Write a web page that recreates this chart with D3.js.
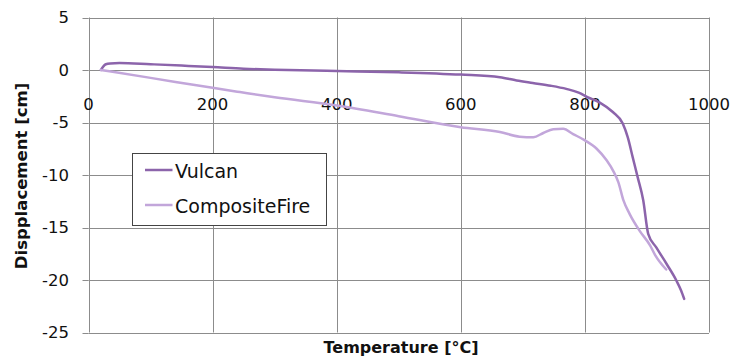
<!DOCTYPE html>
<html>
<head>
<meta charset="utf-8">
<script src="https://cdn.jsdelivr.net/npm/d3@7"></script>
<style>
  html, body { margin: 0; padding: 0; background: #fff; }
  svg { display: block; }
  text { font-family: "DejaVu Sans", sans-serif; fill: #111; }
</style>
</head>
<body>
<svg id="chart" width="734" height="363"></svg>
<script>
// Displacement vs. temperature for two fire models
const vulcanTemp = [20, 24, 28, 35, 50, 100, 150, 200, 250, 300, 400, 500, 600, 663, 690, 716, 745, 770, 790, 805, 824, 845, 861, 869, 877, 885, 894, 902, 915, 932, 947, 955, 960];
const vulcanDisp = [0, 0.35, 0.55, 0.63, 0.67, 0.55, 0.42, 0.28, 0.12, 0.03, -0.1, -0.22, -0.44, -0.69, -1.0, -1.24, -1.5, -1.8, -2.15, -2.6, -3.1, -4.0, -5.1, -6.4, -8.3, -10.2, -12.4, -15.6, -16.9, -18.5, -20.0, -21.0, -21.8];

const compTemp = [20, 100, 200, 244, 300, 400, 500, 600, 663, 695, 717, 733, 749, 765, 781, 800, 819, 835, 846, 854, 862, 872, 888, 905, 913, 931];
const compDisp = [0, -0.75, -1.7, -2.1, -2.6, -3.38, -4.4, -5.45, -5.9, -6.35, -6.4, -6.0, -5.65, -5.6, -6.1, -6.7, -7.5, -8.6, -9.65, -10.7, -12.4, -13.7, -15.3, -16.7, -17.6, -19.0];

const seriesNames = ["Vulcan", "CompositeFire"];
const seriesColors = ["#8c64ab", "#c2a6da"];
const xTicks = [0, 200, 400, 600, 800, 1000];
const yTicks = [5, 0, -5, -10, -15, -20, -25];

const svg = d3.select("#chart");
const x = d3.scaleLinear().domain([0, 1000]).range([88.5, 709]);
const y = d3.scaleLinear().domain([-25, 5]).range([332.5, 17.5]);

const grid = svg.append("g").attr("stroke", "#8c8c8c").attr("stroke-width", 1);
// vertical gridlines
grid.selectAll("line.v").data(xTicks).join("line")
  .attr("x1", d => Math.round(x(d)) + 0.5).attr("x2", d => Math.round(x(d)) + 0.5)
  .attr("y1", y(5)).attr("y2", y(-25));
// horizontal gridlines
grid.selectAll("line.h").data(yTicks).join("line")
  .attr("y1", d => Math.round(y(d)) + 0.5).attr("y2", d => Math.round(y(d)) + 0.5)
  .attr("x1", x(0)).attr("x2", x(1000));
// small outward ticks on the value axis
grid.selectAll("line.t").data(yTicks).join("line")
  .attr("y1", d => Math.round(y(d)) + 0.5).attr("y2", d => Math.round(y(d)) + 0.5)
  .attr("x1", x(0) - 6).attr("x2", x(0));

// y tick labels
svg.append("g").selectAll("text").data(yTicks).join("text")
  .attr("x", 69).attr("y", d => y(d)).attr("dy", "0.36em")
  .attr("text-anchor", "end").style("font-size", "16.5px")
  .text(d => d);

// x tick labels sit just under the zero line
svg.append("g").selectAll("text").data(xTicks).join("text")
  .attr("x", d => x(d)).attr("y", 110)
  .attr("text-anchor", "middle").style("font-size", "16.5px")
  .text(d => d);

// series lines
const line = d3.line().curve(d3.curveMonotoneX).x(d => x(d[0])).y(d => y(d[1]));
const series = [
  d3.zip(vulcanTemp, vulcanDisp),
  d3.zip(compTemp, compDisp)
];
svg.append("g").selectAll("path").data(series).join("path")
  .attr("d", line)
  .attr("fill", "none")
  .attr("stroke", (d, i) => seriesColors[i])
  .attr("stroke-width", 2.5)
  .attr("stroke-linejoin", "round")
  .attr("stroke-linecap", "round");

// axis titles
svg.append("text")
  .attr("x", 401).attr("y", 352.5).attr("text-anchor", "middle")
  .style("font-size", "16px").style("font-weight", "bold")
  .text("Temperature [°C]");
svg.append("text")
  .attr("transform", "translate(27,176) rotate(-90)")
  .attr("text-anchor", "middle")
  .style("font-size", "16.5px").style("font-weight", "bold")
  .text("Dispplacement [cm]");

// legend
const legend = svg.append("g");
legend.append("rect")
  .attr("x", 132.5).attr("y", 153.5).attr("width", 194).attr("height", 72)
  .attr("fill", "#fff").attr("stroke", "#444").attr("stroke-width", 1);
const legY = [170, 205];
seriesNames.forEach((name, i) => {
  legend.append("line")
    .attr("x1", 145).attr("x2", 172.5).attr("y1", legY[i]).attr("y2", legY[i])
    .attr("stroke", seriesColors[i]).attr("stroke-width", 2.5);
  legend.append("text")
    .attr("x", 175).attr("y", legY[i] + 7.5)
    .style("font-size", "19px")
    .text(name);
});
</script>
</body>
</html>
